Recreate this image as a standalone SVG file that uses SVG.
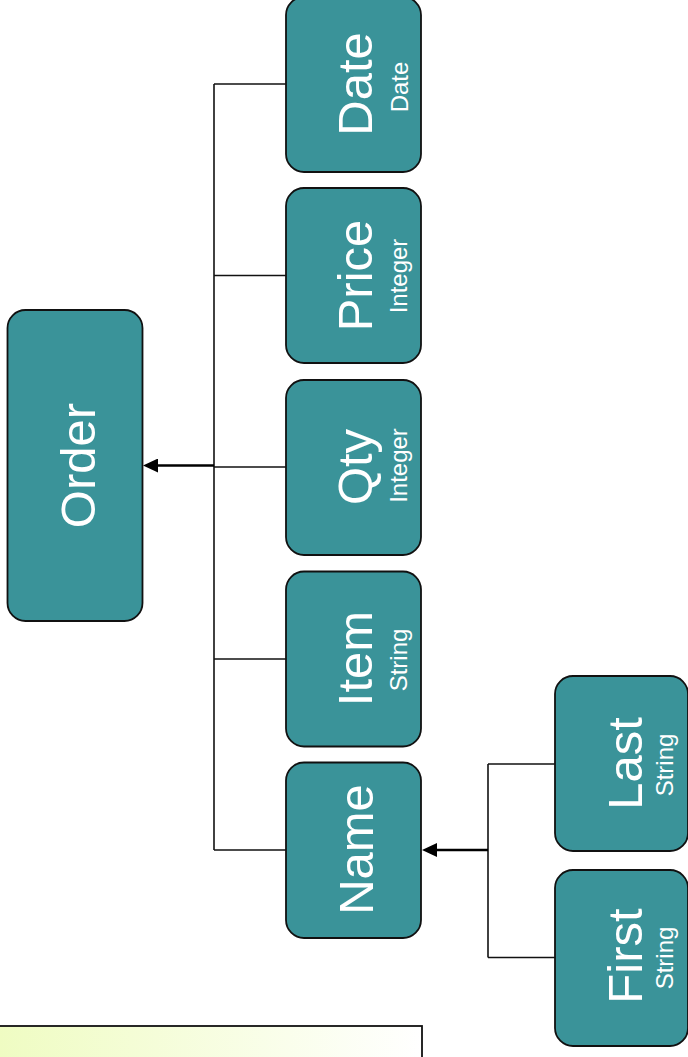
<svg xmlns="http://www.w3.org/2000/svg" width="688" height="1057" viewBox="0 0 688 1057">
  <style>
    .node rect { fill: #3a9399; stroke: #111; stroke-width: 1.8; }
    .big { font-family: "Liberation Sans", Arial, sans-serif; font-size: 49px; fill: #ffffff; text-anchor: middle; }
    .small { font-family: "Liberation Sans", Arial, sans-serif; font-size: 24px; fill: #ffffff; text-anchor: middle; }
    .wire { fill: none; stroke: #111; stroke-width: 1.6; }
    .arrow { fill: none; stroke: #000; stroke-width: 2.6; }
  </style>
  <defs>
    <marker id="ah" viewBox="0 0 15 14" refX="0" refY="7" markerWidth="15" markerHeight="14" orient="auto" markerUnits="userSpaceOnUse">
      <path d="M0,0 L15,7 L0,14 z" fill="#000"/>
    </marker>
    <linearGradient id="note" x1="0" y1="0" x2="1" y2="0">
      <stop offset="0" stop-color="#effcc2"/>
      <stop offset="1" stop-color="#ffffff"/>
    </linearGradient>
  </defs>

  <g id="connectors">
    <path class="wire" d="M214,84 V850"/>
    <path class="wire" d="M214,84 H286"/>
    <path class="wire" d="M214,275.5 H286"/>
    <path class="wire" d="M214,467 H286"/>
    <path class="wire" d="M214,659 H286"/>
    <path class="wire" d="M214,850 H286"/>
    <path class="arrow" d="M214,465.5 H158" marker-end="url(#ah)"/>
    <path class="wire" d="M488,764 V957.5"/>
    <path class="wire" d="M488,764 H555"/>
    <path class="wire" d="M488,957.5 H555"/>
    <path class="arrow" d="M488,850 H437" marker-end="url(#ah)"/>
  </g>

  <g id="node-order" class="node">
    <rect x="7.5" y="310" width="135" height="311" rx="18"/>
    <text class="big" transform="translate(95,465.5) rotate(-90)">Order</text>
  </g>
  <g id="node-date" class="node">
    <rect x="286" y="-3" width="135" height="175" rx="18"/>
    <text class="big" transform="translate(372,84) rotate(-90)">Date</text>
    <text class="small" transform="translate(408,87) rotate(-90)">Date</text>
  </g>
  <g id="node-price" class="node">
    <rect x="286" y="188" width="135" height="175" rx="18"/>
    <text class="big" transform="translate(372,275.5) rotate(-90)">Price</text>
    <text class="small" transform="translate(407,276) rotate(-90)">Integer</text>
  </g>
  <g id="node-qty" class="node">
    <rect x="286" y="380" width="135" height="175" rx="18"/>
    <text class="big" transform="translate(372,467) rotate(-90)">Qty</text>
    <text class="small" transform="translate(407,465.5) rotate(-90)">Integer</text>
  </g>
  <g id="node-item" class="node">
    <rect x="286" y="571.5" width="135" height="175" rx="18"/>
    <text class="big" transform="translate(372,658.5) rotate(-90)">Item</text>
    <text class="small" transform="translate(407,660) rotate(-90)">String</text>
  </g>
  <g id="node-name" class="node">
    <rect x="286" y="762.5" width="135" height="175.5" rx="18"/>
    <text class="big" transform="translate(373,849.5) rotate(-90)">Name</text>
  </g>
  <g id="node-last" class="node">
    <rect x="555" y="676" width="133" height="175" rx="18"/>
    <text class="big" transform="translate(641.5,763.5) rotate(-90)">Last</text>
    <text class="small" transform="translate(673,765) rotate(-90)">String</text>
  </g>
  <g id="node-first" class="node">
    <rect x="555" y="870" width="133" height="176" rx="18"/>
    <text class="big" transform="translate(641.5,956) rotate(-90)">First</text>
    <text class="small" transform="translate(673,958) rotate(-90)">String</text>
  </g>

  <g id="note-box">
    <rect x="-2" y="1026" width="424" height="40" fill="url(#note)" stroke="#111" stroke-width="1.8"/>
  </g>
</svg>
